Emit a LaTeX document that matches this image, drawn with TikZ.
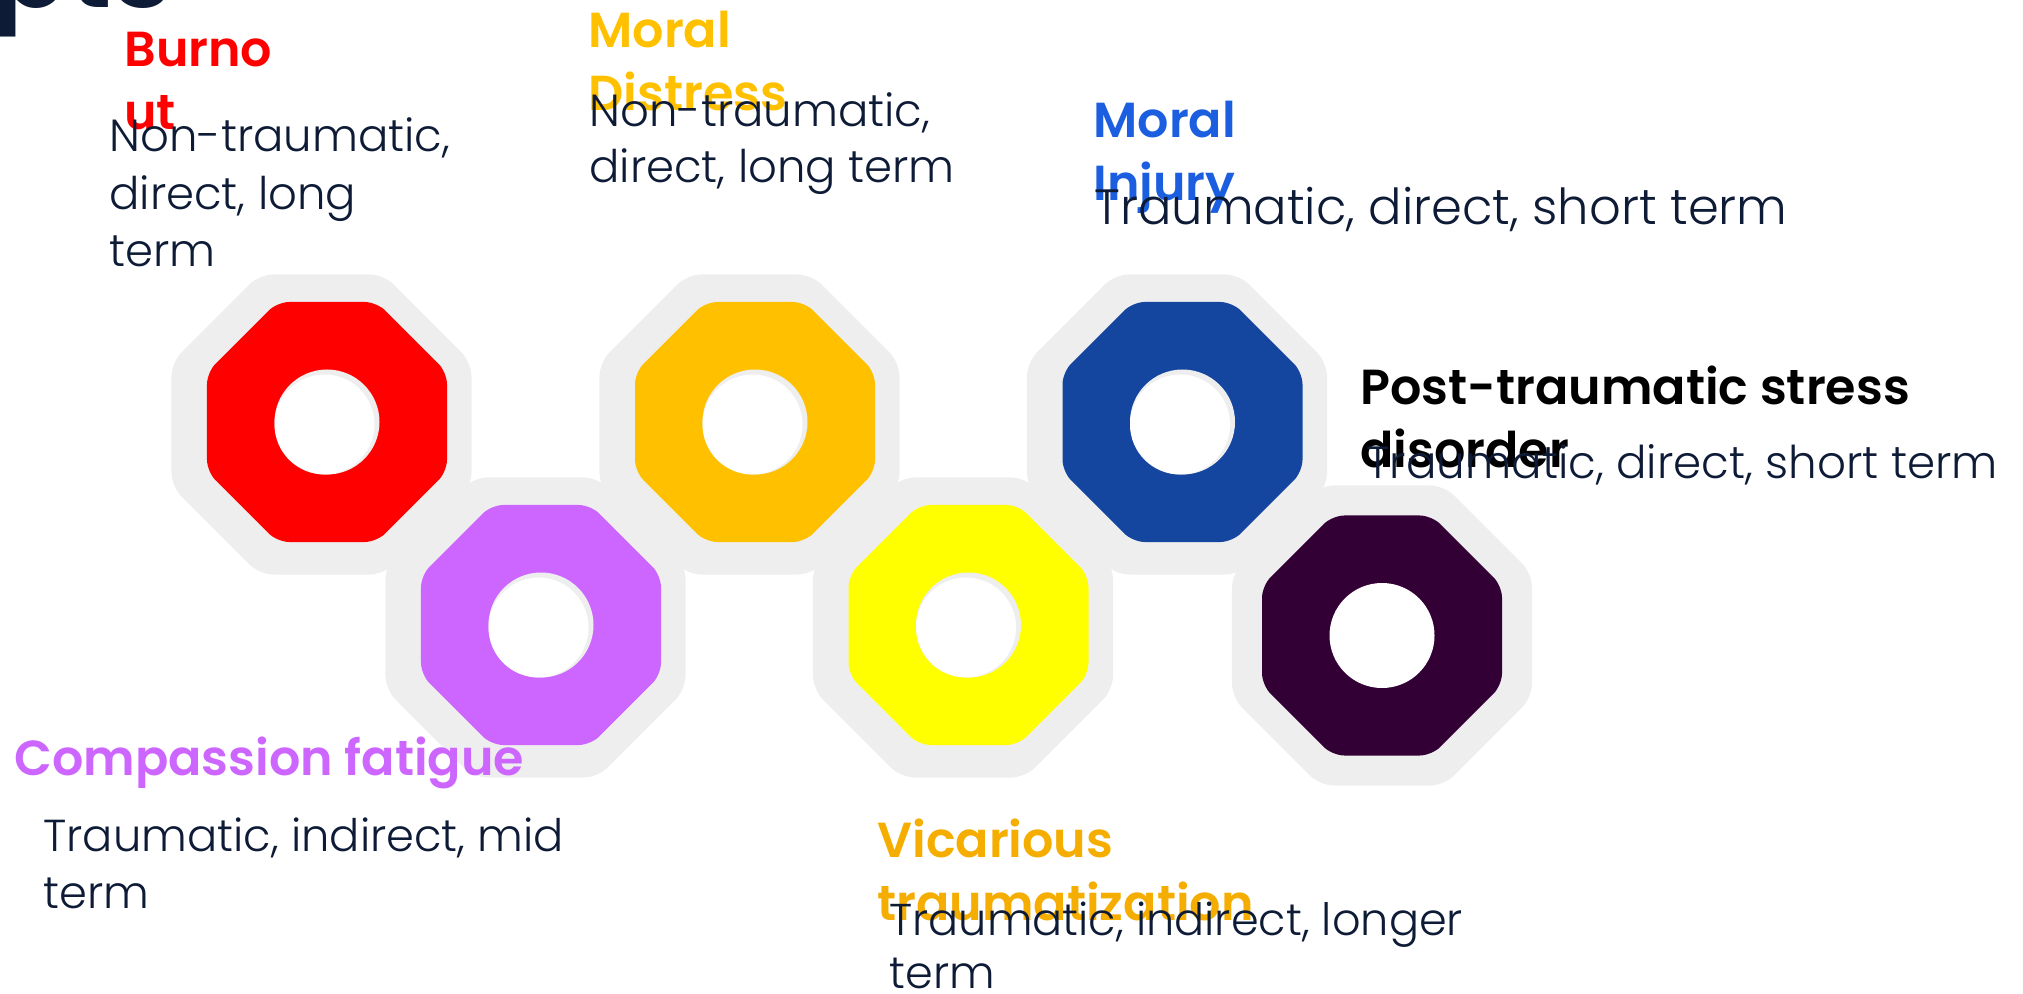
\documentclass[tikz,border=0pt]{standalone}
\usepackage{fontspec}
\setmainfont{Poppins}[UprightFont=* Light, BoldFont=* SemiBold]
\usepackage{tikz}
\usetikzlibrary{shapes,positioning}
\definecolor{trred}{HTML}{FF0000}
\definecolor{trviolet}{HTML}{CC66FF}
\definecolor{tramber}{HTML}{FFC000}
\definecolor{tryellow}{HTML}{FFFF00}
\definecolor{trblue}{HTML}{1446A0}
\definecolor{trplum}{HTML}{330036}
\definecolor{trshade}{HTML}{EEEEEE}
\definecolor{trnavy}{HTML}{0E1B36}
\definecolor{trsky}{HTML}{1B5FE0}
\definecolor{trgold}{HTML}{F5AD00}
\tikzstyle{backing} = [regular polygon, regular polygon sides=8, minimum size=162.4pt, inner sep=0pt, fill=trshade, rounded corners=7pt]
\tikzstyle{nut} = [regular polygon, regular polygon sides=8, minimum size=129.9pt, inner sep=0pt, rounded corners=6pt]
\tikzstyle{holeshade} = [circle, minimum size=52.5pt, inner sep=0pt, fill=trshade]
\tikzstyle{hole} = [circle, minimum size=50pt, inner sep=0pt, fill=white]
\tikzstyle{heading} = [anchor=base west, inner sep=0pt, align=left, font=\bfseries\fontsize{24.6pt}{31.5pt}\selectfont]
\tikzstyle{blurb} = [anchor=base west, inner sep=0pt, align=left, text=trnavy]

\begin{document}
\begin{tikzpicture}[x=0.5pt, y=-0.5pt]
\useasboundingbox (0,0) rectangle (2023,994);
% Backings
\node (burnoutbg) [backing] at (321.5,424.5) {};
\node (distressbg) [backing] at (749.5,424.5) {};
\node (injurybg) [backing] at (1177,424.5) {};
\node (compassionbg) [backing] at (535.5,627.5) {};
\node (vicariousbg) [backing] at (963,627.5) {};
\node (ptsdbg) [backing] at (1382,635.5) {};

% Nuts
\node (burnout) [nut, fill=trred] at (327,422) {};
\node (distress) [nut, fill=tramber] at (755,422) {};
\node (injury) [nut, fill=trblue] at (1182.5,422) {};
\node (compassion) [nut, fill=trviolet] at (541,625) {};
\node (vicarious) [nut, fill=tryellow] at (968.5,625) {};
\node (ptsd) [nut, fill=trplum] at (1382,635.5) {};

\node (burnoutsh) [holeshade] at (burnout) {};
\node (distresssh) [holeshade] at (distress) {};
\node (injurysh) [holeshade] at (injury) {};
\node (compassionsh) [holeshade] at (compassion) {};
\node (vicarioussh) [holeshade] at (vicarious) {};
\node (burnouthole) [hole] at ([shift={(-2.5,2.5)}]burnout) {};
\node (distresshole) [hole] at ([shift={(-2.5,2.5)}]distress) {};
\node (injuryhole) [hole] at ([shift={(-2.5,2.5)}]injury) {};
\node (compassionhole) [hole] at ([shift={(-2.5,2.5)}]compassion) {};
\node (vicarioushole) [hole] at ([shift={(-2.5,2.5)}]vicarious) {};
\node (ptsdhole) [hole, minimum size=52.5pt] at (ptsd) {};

% Labels
\node (title) [anchor=base west, inner sep=0pt, text=trnavy, font=\bfseries\fontsize{56pt}{60pt}\selectfont] at (-8,8) {pts};

\node (burnouthead) [heading, text=trred] at (124,130) {Burno\\ut};
\node (burnouttext) [blurb, font=\fontsize{22.5pt}{28.75pt}\selectfont] at (109,267) {Non-traumatic,\\direct, long\\term};

\node (distresshead) [heading, text=tramber] at (588,111) {Moral\\Distress};
\node (distresstext) [blurb, font=\fontsize{22.5pt}{28pt}\selectfont] at (589,183) {Non-traumatic,\\direct, long term};

\node (injuryhead) [heading, text=trsky] at (1093,201) {Moral\\Injury};
\node (injurytext) [blurb, font=\fontsize{24.8pt}{29pt}\selectfont] at (1094,225) {Traumatic, direct, short term};

\node (ptsdhead) [heading, text=black] at (1360,467) {Post-traumatic stress\\disorder};
\node (ptsdtext) [blurb, font=\fontsize{22.6pt}{26pt}\selectfont] at (1366,478) {Traumatic, direct, short term};

\node (compassionhead) [heading, text=trviolet] at (14,775) {Compassion fatigue};
\node (compassiontext) [blurb, font=\fontsize{22.4pt}{28.5pt}\selectfont] at (43,908) {Traumatic, indirect, mid\\term};

\node (vicarioushead) [heading, text=trgold] at (877,920) {Vicarious\\traumatization};
\node (vicarioustext) [blurb, font=\fontsize{22.3pt}{26.5pt}\selectfont] at (889,988) {Traumatic, indirect, longer\\term};
\end{tikzpicture}
\end{document}
